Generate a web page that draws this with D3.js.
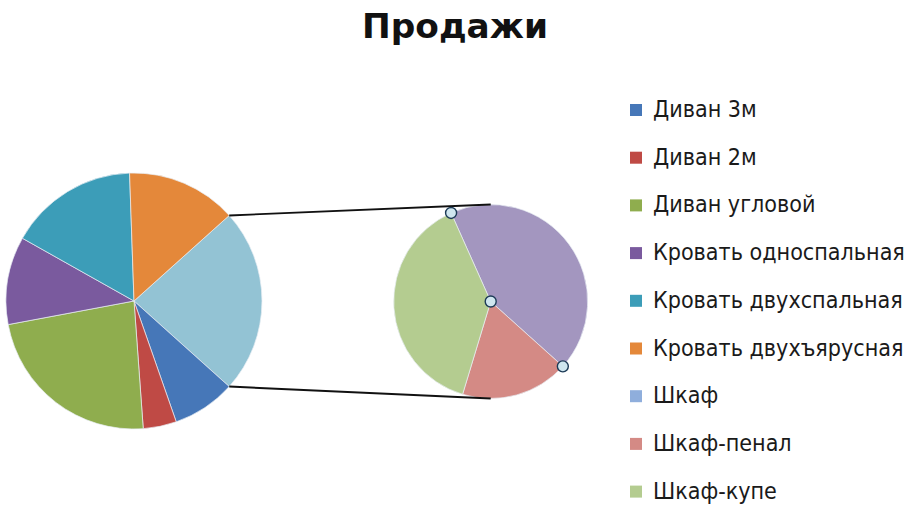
<!DOCTYPE html>
<html>
<head>
<meta charset="utf-8">
<script src="https://cdn.jsdelivr.net/npm/d3@7"></script>
<style>
  html, body { margin: 0; padding: 0; background: #ffffff; }
  svg { display: block; }
</style>
</head>
<body>
<svg id="chart" width="908" height="514"></svg>
<script>
// ---- data ----
const title = "Продажи";
const categories = ["Диван 3м", "Диван 2м", "Диван угловой", "Кровать односпальная",
  "Кровать двухспальная", "Кровать двухъярусная", "Шкаф", "Шкаф-пенал", "Шкаф-купе"];
const legendColors = ["#4677B8", "#BF4A45", "#8FAD4E", "#7A5A9E", "#3C9DB8", "#E4883A",
  "#8FAEDC", "#D48A85", "#B4CC90"];
// primary pie (in share of total sales)
const primaryNames = ["Диван 3м", "Диван 2м", "Диван угловой", "Кровать односпальная",
  "Кровать двухспальная", "Кровать двухъярусная"];
const primaryValues = [8.0, 4.2, 23.2, 11.1, 16.3, 13.9];
const primaryColors = ["#4677B8", "#BF4A45", "#8FAD4E", "#7A5A9E", "#3C9DB8", "#E4883A"];
// secondary pie
const secondaryNames = ["Шкаф", "Шкаф-пенал", "Шкаф-купе"];
const secondaryValues = [10.1, 4.2, 9.0];
const secondaryColors = ["#A396BF", "#D48A85", "#B4CC90"];
const otherColor = "#93C3D4";

// ---- layout ----
const svg = d3.select("#chart");
const main = { cx: 134, cy: 301, r: 128 };
const sec = { cx: 490.7, cy: 301.5, r: 97 };
const secStartDeg = -24.1;

const otherValue = d3.sum(secondaryValues);
const total = otherValue + d3.sum(primaryValues);
const otherSpan = 2 * Math.PI * otherValue / total;

// primary pie data: Other slice first, centred at 3 o'clock
const pData = [{ name: "other", value: otherValue, color: otherColor }]
  .concat(primaryNames.map((n, i) => ({ name: n, value: primaryValues[i], color: primaryColors[i] })));
const pie1 = d3.pie().sort(null).value(d => d.value)
  .startAngle(Math.PI / 2 - otherSpan / 2).endAngle(Math.PI / 2 - otherSpan / 2 + 2 * Math.PI);
const arc1 = d3.arc().innerRadius(0).outerRadius(main.r);
const arcs1 = pie1(pData);

const g1 = svg.append("g").attr("transform", `translate(${main.cx},${main.cy})`);
g1.selectAll("path").data(arcs1).join("path")
  .attr("d", arc1).attr("fill", d => d.data.color)
  .attr("stroke", "#e8eef3").attr("stroke-width", 0.7);

// secondary pie
const sData = secondaryNames.map((n, i) => ({ name: n, value: secondaryValues[i], color: secondaryColors[i] }));
const s0 = secStartDeg * Math.PI / 180;
const pie2 = d3.pie().sort(null).value(d => d.value).startAngle(s0).endAngle(s0 + 2 * Math.PI);
const arc2 = d3.arc().innerRadius(0).outerRadius(sec.r);
const arcs2 = pie2(sData);
const g2 = svg.append("g").attr("transform", `translate(${sec.cx},${sec.cy})`);
g2.selectAll("path").data(arcs2).join("path")
  .attr("d", arc2).attr("fill", d => d.data.color)
  .attr("stroke", "#e8eef3").attr("stroke-width", 0.7);

// connector lines
const pt = (c, a) => [c.cx + c.r * Math.sin(a), c.cy - c.r * Math.cos(a)];
const oth = arcs1[0];
const a1 = pt(main, oth.startAngle), a2 = pt(main, oth.endAngle);
const lines = [
  [a1, [sec.cx, sec.cy - sec.r]],
  [a2, [sec.cx, sec.cy + sec.r]]
];
svg.selectAll("line.conn").data(lines).join("line").attr("class", "conn")
  .attr("x1", d => d[0][0]).attr("y1", d => d[0][1])
  .attr("x2", d => d[1][0]).attr("y2", d => d[1][1])
  .attr("stroke", "#111").attr("stroke-width", 1.9);

// selection handles on the first secondary slice
const selArc = arcs2[0];
const handles = [[sec.cx, sec.cy], pt(sec, selArc.startAngle), pt(sec, selArc.endAngle)];
svg.selectAll("circle.h").data(handles).join("circle").attr("class", "h")
  .attr("cx", d => d[0]).attr("cy", d => d[1]).attr("r", 5.5)
  .attr("fill", "#cfe6ef").attr("stroke", "#1d3b57").attr("stroke-width", 1.4);

// title
const t = svg.append("text").text(title)
  .attr("x", 455).attr("y", 38).attr("text-anchor", "middle")
  .attr("font-family", "DejaVu Sans, Verdana, sans-serif").attr("font-weight", "bold")
  .attr("font-size", 32).attr("fill", "#111");
const tw = t.node().getComputedTextLength();
t.attr("font-size", 32 * 186 / tw);

// legend
const leg = svg.append("g");
const rows = leg.selectAll("g").data(categories).join("g")
  .attr("transform", (d, i) => `translate(630,${117 + i * 47.7})`);
rows.append("rect").attr("x", 0).attr("y", -13).attr("width", 12).attr("height", 12)
  .attr("fill", (d, i) => legendColors[i]);
const txt = rows.append("text").text(d => d).attr("x", 23).attr("y", 0)
  .attr("font-family", "DejaVu Sans Condensed, DejaVu Sans, sans-serif").attr("font-size", 20).attr("fill", "#1a1a1a");
const refW = txt.filter(d => d === "Кровать односпальная").node().getComputedTextLength();
txt.attr("font-size", 20 * 252 / refW);
</script>
</body>
</html>
